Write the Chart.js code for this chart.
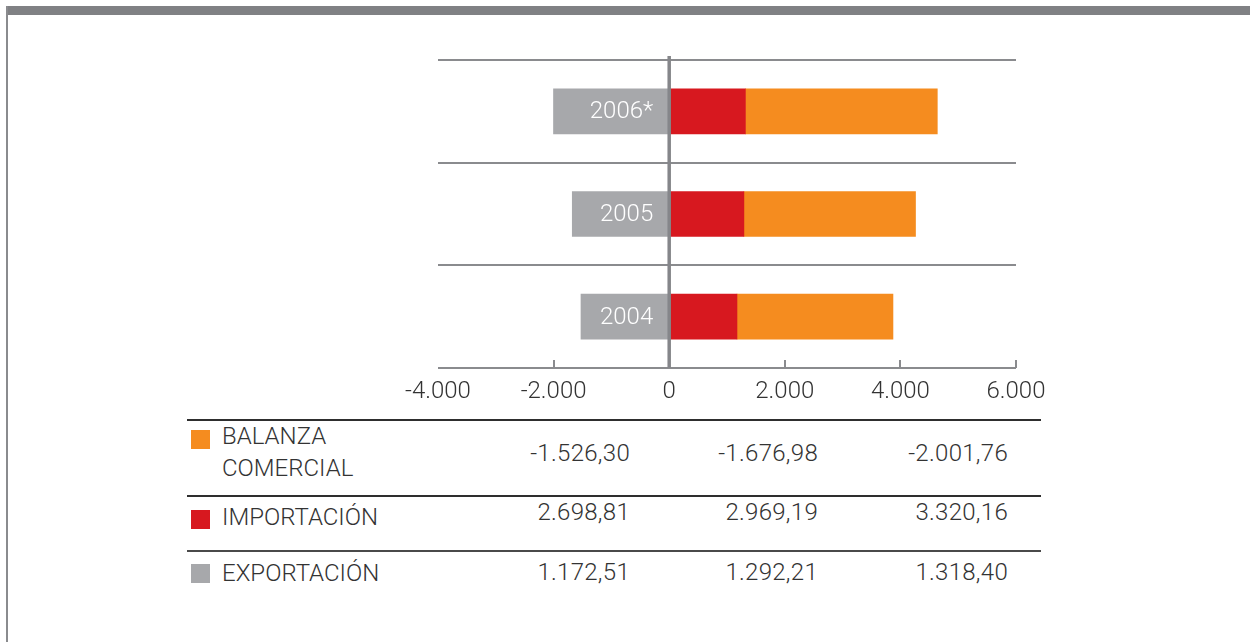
<!DOCTYPE html>
<html>
<head>
<meta charset="utf-8">
<script src="https://cdn.jsdelivr.net/npm/chart.js@4.4.1/dist/chart.umd.min.js"></script>
<style>
  html, body { margin: 0; padding: 0; background: #fff; }
  body { width: 1250px; height: 642px; position: relative; overflow: hidden; font-family: Roboto, "Liberation Sans", sans-serif; font-weight: 300; color: #333; }
  #marcoTop { position: absolute; left: 6px; top: 6px; width: 1250px; height: 9px; background: #808184; }
  #marcoIzq { position: absolute; left: 6px; top: 6px; width: 2px; height: 640px; background: #8a8b8e; }
  #wrap { position: absolute; left: 0; top: 0; width: 1250px; height: 410px; }
  .linea { position: absolute; left: 187px; width: 854px; height: 2px; background: #2e2e2e; }
  .swatch { position: absolute; left: 191px; width: 19px; height: 19px; }
  .txt { position: absolute; font-size: 24px; line-height: 32px; white-space: pre-line; }
  .val { position: absolute; width: 160px; text-align: right; font-size: 24px; line-height: 32px; letter-spacing: 0.3px; }
</style>
</head>
<body>
<div id="marcoTop"></div>
<div id="marcoIzq"></div>
<div id="wrap"><canvas id="grafico"></canvas></div>
<div id="tabla"></div>
<script>
// ===== datos (orden de columnas de la tabla: 2004, 2005, 2006*) =====
var anios = ['2004', '2005', '2006*'];
var balanza = [-1526.30, -1676.98, -2001.76];
var importacion = [2698.81, 2969.19, 3320.16];
var exportacion = [1172.51, 1292.21, 1318.40];
var ticksX = [-4000, -2000, 0, 2000, 4000, 6000];

var filasTabla = ['BALANZA\nCOMERCIAL', 'IMPORTACIÓN', 'EXPORTACIÓN'];
var coloresTabla = ['#f58c1f', '#d7181f', '#a7a8ab'];

// formato español: miles con punto, decimales con coma
function fmtMiles(v, dec) {
  var neg = v < 0;
  var s = Math.abs(v).toFixed(dec);
  var partes = s.split('.');
  var ent = partes[0].replace(/\B(?=(\d{3})+(?!\d))/g, '.');
  return (neg ? '-' : '') + ent + (dec ? ',' + partes[1] : '');
}

// ===== grafico =====
var etiquetasGraf = anios.slice().reverse();
var rev = function (a) { return a.slice().reverse(); };

var pluginEjes = {
  id: 'ejes',
  afterDatasetsDraw: function (chart) {
    var ctx = chart.ctx, ca = chart.chartArea;
    var sx = chart.scales.x, sy = chart.scales.y;
    var x0 = sx.getPixelForValue(0);
    ctx.save();
    // marcas pequeñas hacia arriba
    ctx.strokeStyle = '#8a8b8e';
    ctx.lineWidth = 2;
    ticksX.forEach(function (t) {
      if (t === 0 || t === ticksX[0]) return;
      var px = Math.round(sx.getPixelForValue(t));
      ctx.beginPath();
      ctx.moveTo(px, ca.bottom);
      ctx.lineTo(px, ca.bottom - 8);
      ctx.stroke();
    });
    // linea del cero
    ctx.strokeStyle = '#85868a';
    ctx.lineWidth = 3.5;
    ctx.beginPath();
    ctx.moveTo(x0, ca.top - 4);
    ctx.lineTo(x0, ca.bottom);
    ctx.stroke();
    // años dentro de la barra gris
    ctx.fillStyle = '#ffffff';
    ctx.font = '300 24px Roboto, "Liberation Sans", sans-serif';
    ctx.textAlign = 'right';
    ctx.textBaseline = 'middle';
    etiquetasGraf.forEach(function (lab, i) {
      ctx.fillText(lab, x0 - 16, sy.getPixelForValue(i) + 1);
    });
    ctx.restore();
  }
};

var ctx = document.getElementById('grafico').getContext('2d');
var miChart = new Chart(ctx, {
  type: 'bar',
  data: {
    labels: etiquetasGraf,
    datasets: [
      { label: 'Balanza', data: rev(balanza), backgroundColor: '#a7a8ab', barThickness: 45 },
      { label: 'Exportación', data: rev(exportacion), backgroundColor: '#d7181f', barThickness: 45 },
      { label: 'Importación', data: rev(importacion), backgroundColor: '#f58c1f', barThickness: 45 }
    ]
  },
  options: {
    indexAxis: 'y',
    responsive: true,
    maintainAspectRatio: false,
    animation: false,
    layout: { padding: { left: 438, right: 234, top: 60, bottom: 0 } },
    plugins: { legend: { display: false }, tooltip: { enabled: false } },
    scales: {
      x: {
        stacked: true,
        min: -4000, max: 6000,
        afterBuildTicks: function (s) { s.ticks = ticksX.map(function (v) { return { value: v }; }); },
        afterFit: function (s) { s.height = 42; },
        grid: { display: false, drawTicks: false },
        border: { display: false },
        ticks: {
          padding: 10,
          color: '#333',
          font: { family: 'Roboto, "Liberation Sans", sans-serif', size: 24, weight: 300 },
          maxRotation: 0,
          callback: function (v) { return fmtMiles(v, 0); }
        }
      },
      y: {
        stacked: true,
        afterFit: function (s) { s.width = 0; },
        grid: { color: '#8a8b8e', lineWidth: 2, drawTicks: false, offset: true },
        border: { display: false },
        ticks: { display: false }
      }
    }
  },
  plugins: [pluginEjes]
});

// ===== tabla =====
var tabla = document.getElementById('tabla');
var lineasY = [419, 495, 550];
var coloresLinea = ['#2e2e2e', '#2e2e2e', '#4a4a4a'];
var topEtiqueta = [420, 501, 557];
var topValor = [437, 496, 556];
var topSwatch = [430, 510, 564];
var bordesDer = [630, 818, 1008];
var valoresFila = [balanza, importacion, exportacion];

lineasY.forEach(function (y, i) {
  var l = document.createElement('div');
  l.className = 'linea';
  l.style.top = y + 'px';
  l.style.background = coloresLinea[i];
  tabla.appendChild(l);
});

filasTabla.forEach(function (nombre, i) {
  var sw = document.createElement('div');
  sw.className = 'swatch';
  sw.style.top = topSwatch[i] + 'px';
  sw.style.background = coloresTabla[i];
  tabla.appendChild(sw);

  var t = document.createElement('div');
  t.className = 'txt';
  t.style.left = '222px';
  t.style.top = topEtiqueta[i] + 'px';
  t.textContent = nombre;
  tabla.appendChild(t);

  valoresFila[i].forEach(function (v, j) {
    var c = document.createElement('div');
    c.className = 'val';
    c.style.left = (bordesDer[j] - 160) + 'px';
    c.style.top = topValor[i] + 'px';
    c.textContent = fmtMiles(v, 2);
    tabla.appendChild(c);
  });
});
</script>
</body>
</html>
